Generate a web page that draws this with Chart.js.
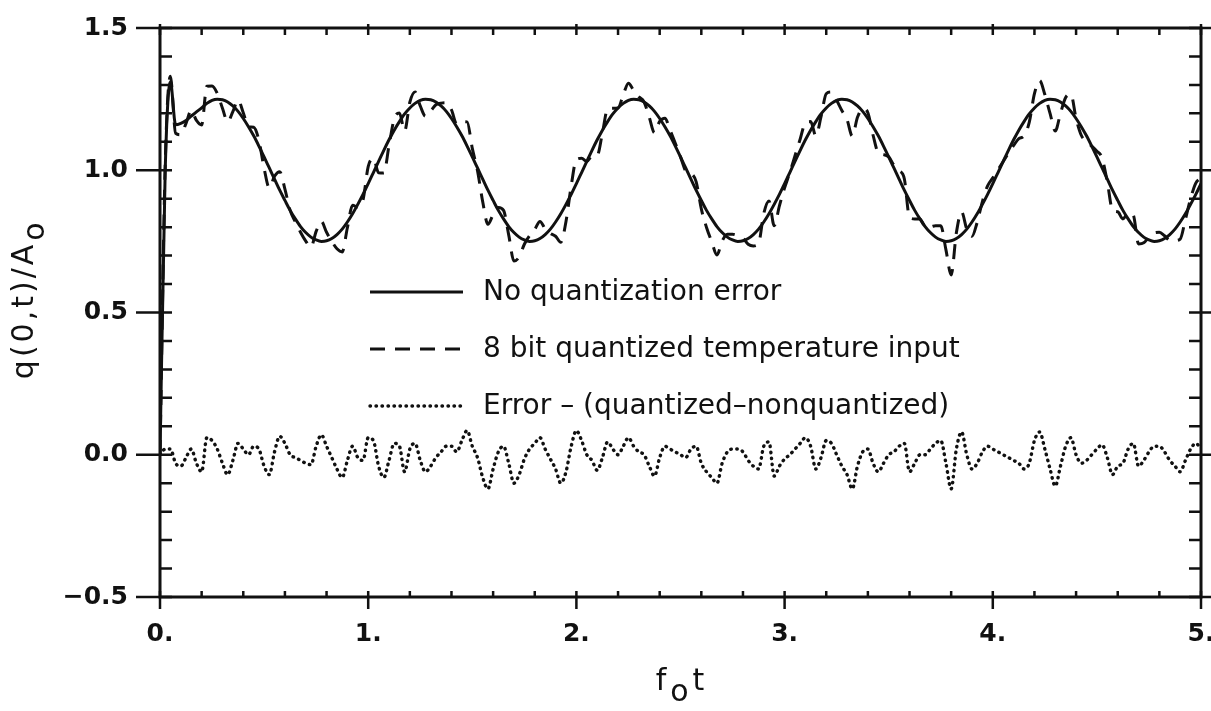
<!DOCTYPE html>
<html>
<head>
<meta charset="utf-8">
<script src="https://cdn.jsdelivr.net/npm/chart.js@4.4.1/dist/chart.umd.min.js"></script>
<style>
  html, body { margin: 0; padding: 0; background: #fff; }
  canvas { display: block; }
</style>
</head>
<body>
<canvas id="quantChart" width="1211" height="711"></canvas>
<script>
// sample times f_o t (0 .. 5, every 0.025)
const fot = Array.from({ length: 201 }, (_, i) => i / 40);

// q(0,t)/A_o without quantization (solid)
const noQuantization = [
  0.000, 1.000, 1.310, 1.160, 1.165, 1.175, 1.190, 1.205, // 0.0
  1.219, 1.235, 1.246, 1.250, 1.248, 1.240, 1.226, 1.207, // 0.2
  1.182, 1.153, 1.121, 1.085, 1.047, 1.008, 0.969, 0.930, // 0.4
  0.894, 0.859, 0.829, 0.802, 0.781, 0.765, 0.755, 0.750, // 0.6
  0.752, 0.760, 0.774, 0.793, 0.818, 0.847, 0.880, 0.915, // 0.8
  0.953, 0.992, 1.031, 1.070, 1.107, 1.141, 1.171, 1.198, // 1.0
  1.219, 1.235, 1.246, 1.250, 1.248, 1.240, 1.226, 1.207, // 1.2
  1.182, 1.153, 1.121, 1.085, 1.047, 1.008, 0.969, 0.930, // 1.4
  0.894, 0.859, 0.829, 0.802, 0.781, 0.765, 0.755, 0.750, // 1.6
  0.752, 0.760, 0.774, 0.793, 0.818, 0.847, 0.880, 0.915, // 1.8
  0.953, 0.992, 1.031, 1.070, 1.107, 1.141, 1.171, 1.198, // 2.0
  1.219, 1.235, 1.246, 1.250, 1.248, 1.240, 1.226, 1.207, // 2.2
  1.182, 1.153, 1.121, 1.085, 1.047, 1.008, 0.969, 0.930, // 2.4
  0.894, 0.859, 0.829, 0.802, 0.781, 0.765, 0.755, 0.750, // 2.6
  0.752, 0.760, 0.774, 0.793, 0.818, 0.847, 0.880, 0.915, // 2.8
  0.953, 0.992, 1.031, 1.070, 1.107, 1.141, 1.171, 1.198, // 3.0
  1.219, 1.235, 1.246, 1.250, 1.248, 1.240, 1.226, 1.207, // 3.2
  1.182, 1.153, 1.121, 1.085, 1.047, 1.008, 0.969, 0.930, // 3.4
  0.894, 0.859, 0.829, 0.802, 0.781, 0.765, 0.755, 0.750, // 3.6
  0.752, 0.760, 0.774, 0.793, 0.818, 0.847, 0.880, 0.915, // 3.8
  0.953, 0.992, 1.031, 1.070, 1.107, 1.141, 1.171, 1.198, // 4.0
  1.219, 1.235, 1.246, 1.250, 1.248, 1.240, 1.226, 1.207, // 4.2
  1.182, 1.153, 1.121, 1.085, 1.047, 1.008, 0.969, 0.930, // 4.4
  0.894, 0.859, 0.829, 0.802, 0.781, 0.765, 0.755, 0.750, // 4.6
  0.752, 0.760, 0.774, 0.793, 0.818, 0.847, 0.880, 0.915, // 4.8
  0.953
];

// 8 bit quantized temperature input (dashed)
const quantized8bit = [
  0.000, 1.020, 1.330, 1.130, 1.125, 1.165, 1.210, 1.175, // 0.0
  1.159, 1.295, 1.296, 1.270, 1.218, 1.170, 1.206, 1.247, // 0.2
  1.202, 1.153, 1.151, 1.105, 1.007, 0.938, 0.979, 0.995, // 0.4
  0.934, 0.859, 0.819, 0.782, 0.751, 0.730, 0.785, 0.820, // 0.6
  0.782, 0.750, 0.724, 0.713, 0.798, 0.877, 0.870, 0.895, // 0.8
  1.013, 1.042, 0.991, 0.990, 1.087, 1.181, 1.201, 1.138, // 1.0
  1.239, 1.275, 1.226, 1.190, 1.208, 1.230, 1.236, 1.237, // 1.2
  1.212, 1.163, 1.171, 1.170, 1.077, 0.998, 0.889, 0.810, // 1.4
  0.844, 0.869, 0.859, 0.772, 0.681, 0.695, 0.740, 0.770, // 1.6
  0.792, 0.820, 0.794, 0.778, 0.768, 0.747, 0.820, 0.945, // 1.8
  1.038, 1.042, 1.031, 1.050, 1.052, 1.131, 1.216, 1.218, // 2.0
  1.219, 1.265, 1.306, 1.280, 1.258, 1.240, 1.186, 1.132, // 2.2
  1.172, 1.183, 1.141, 1.095, 1.047, 0.998, 0.989, 0.960, // 2.4
  0.864, 0.799, 0.749, 0.702, 0.751, 0.775, 0.775, 0.770, // 2.6
  0.762, 0.740, 0.734, 0.743, 0.848, 0.892, 0.805, 0.875, // 2.8
  0.938, 0.992, 1.051, 1.110, 1.167, 1.171, 1.121, 1.188, // 3.0
  1.269, 1.275, 1.246, 1.210, 1.178, 1.120, 1.186, 1.217, // 3.2
  1.202, 1.123, 1.061, 1.055, 1.047, 1.018, 0.999, 0.970, // 3.4
  0.834, 0.829, 0.829, 0.802, 0.801, 0.805, 0.805, 0.720, // 3.6
  0.632, 0.780, 0.854, 0.793, 0.768, 0.817, 0.890, 0.945, // 3.8
  0.973, 1.002, 1.031, 1.060, 1.087, 1.111, 1.121, 1.168, // 4.0
  1.269, 1.315, 1.266, 1.200, 1.138, 1.200, 1.256, 1.267, // 4.2
  1.182, 1.123, 1.101, 1.085, 1.067, 1.043, 0.959, 0.860, // 4.4
  0.854, 0.829, 0.849, 0.842, 0.741, 0.745, 0.765, 0.780, // 4.6
  0.782, 0.770, 0.754, 0.753, 0.758, 0.827, 0.900, 0.955, // 4.8
  0.973
];

// Error - (quantized-nonquantized) (dotted)
const quantError = [
  0.00, 0.02, 0.02, -0.03, -0.04, -0.01, 0.02, -0.03,     // 0.0
  -0.06, 0.06, 0.05, 0.02, -0.03, -0.07, -0.02, 0.04,     // 0.2
  0.02, 0.00, 0.03, 0.02, -0.04, -0.07, 0.01, 0.065,      // 0.4
  0.04, 0.00, -0.01, -0.02, -0.03, -0.035, 0.03, 0.07,    // 0.6
  0.03, -0.01, -0.05, -0.08, -0.02, 0.03, -0.01, -0.02,   // 0.8
  0.06, 0.05, -0.04, -0.08, -0.02, 0.04, 0.03, -0.06,     // 1.0
  0.02, 0.04, -0.02, -0.06, -0.04, -0.01, 0.01, 0.03,     // 1.2
  0.03, 0.01, 0.05, 0.085, 0.03, -0.01, -0.08, -0.12,     // 1.4
  -0.05, 0.01, 0.03, -0.03, -0.10, -0.07, -0.015, 0.02,   // 1.6
  0.04, 0.06, 0.02, -0.015, -0.05, -0.10, -0.06, 0.03,    // 1.8
  0.085, 0.05, 0.00, -0.02, -0.055, -0.01, 0.045, 0.02,   // 2.0
  0.00, 0.03, 0.06, 0.03, 0.01, 0.00, -0.04, -0.075,      // 2.2
  -0.01, 0.03, 0.02, 0.01, 0.00, -0.01, 0.02, 0.03,       // 2.4
  -0.03, -0.06, -0.08, -0.10, -0.03, 0.01, 0.02, 0.02,    // 2.6
  0.01, -0.02, -0.04, -0.05, 0.03, 0.045, -0.075, -0.04,  // 2.8
  -0.015, 0.00, 0.02, 0.04, 0.06, 0.03, -0.05, -0.01,     // 3.0
  0.05, 0.04, 0.00, -0.04, -0.07, -0.12, -0.04, 0.01,     // 3.2
  0.02, -0.03, -0.06, -0.03, 0.00, 0.01, 0.03, 0.04,      // 3.4
  -0.06, -0.03, 0.00, 0.00, 0.02, 0.04, 0.05, -0.03,      // 3.6
  -0.12, 0.02, 0.08, 0.00, -0.05, -0.03, 0.01, 0.03,      // 3.8
  0.02, 0.01, 0.00, -0.01, -0.02, -0.03, -0.05, -0.03,    // 4.0
  0.05, 0.08, 0.02, -0.05, -0.11, -0.04, 0.03, 0.06,      // 4.2
  0.00, -0.03, -0.02, 0.00, 0.02, 0.035, -0.01, -0.07,    // 4.4
  -0.04, -0.03, 0.02, 0.04, -0.04, -0.02, 0.01, 0.03,     // 4.6
  0.03, 0.01, -0.02, -0.04, -0.06, -0.02, 0.02, 0.04,     // 4.8
  0.02
];

const seriesLabels = [
  'No quantization error',
  '8 bit quantized temperature input',
  'Error – (quantized–nonquantized)'
];

// axis titles: [main, subscript, tail]
const xTitle = ['f', 'o', 't'];
const yTitle = ['q(0,t)/A', 'o', ''];

const ink = '#111';
Chart.defaults.font.family = "'DejaVu Sans', sans-serif";
Chart.defaults.color = ink;

function toPoints(values) {
    return fot.map((t, i) => ({ x: t, y: values[i] }));
}

// frame with inward ticks on all four sides, majors poke outside
const frameTicks = {
    id: 'frameTicks',
    afterDatasetsDraw(chart) {
        const { ctx, chartArea: a, scales: { x, y } } = chart;
        ctx.save();
        ctx.strokeStyle = ink;
        ctx.lineWidth = 3;
        ctx.strokeRect(a.left, a.top, a.right - a.left, a.bottom - a.top);
        ctx.lineWidth = 2.5;
        ctx.beginPath();
        for (let i = 0; i <= 25; i++) {
            const px = x.getPixelForValue(i * 0.2);
            const major = i % 5 === 0;
            ctx.moveTo(px, a.bottom - 6);
            ctx.lineTo(px, a.bottom + (major ? 12 : 0));
            ctx.moveTo(px, a.top + 7);
            ctx.lineTo(px, a.top - (major ? 4 : 0));
        }
        for (let i = 0; i <= 20; i++) {
            const py = y.getPixelForValue(-0.5 + i * 0.1);
            const major = i % 5 === 0;
            ctx.moveTo(a.left - (major ? 24 : 0), py);
            ctx.lineTo(a.left + 12, py);
            ctx.moveTo(a.right - 12, py);
            ctx.lineTo(a.right + (major ? 10 : 0), py);
        }
        ctx.stroke();
        ctx.restore();
    }
};

// text with a dropped subscript, the way the plotter wrote it
function subText(ctx, parts, x, y, size) {
    ctx.font = size + "px 'DejaVu Sans'";
    ctx.fillText(parts[0], x, y);
    let w = ctx.measureText(parts[0]).width;
    ctx.fillText(parts[1], x + w + 1, y + size * 0.38);
    w += ctx.measureText(parts[1]).width + 2;
    ctx.fillText(parts[2], x + w, y);
}

const axisTitles = {
    id: 'axisTitles',
    afterDraw(chart) {
        const { ctx, chartArea: a } = chart;
        ctx.save();
        ctx.fillStyle = ink;
        ctx.textBaseline = 'alphabetic';
        ctx.textAlign = 'left';
        ctx.letterSpacing = '3px';
        // x title under the middle of the axis
        ctx.font = "30px 'DejaVu Sans'";
        const xw = ctx.measureText(xTitle.join('')).width;
        subText(ctx, xTitle, (a.left + a.right) / 2 - xw / 2, 690, 30);
        // y title, rotated
        ctx.translate(33, 300);
        ctx.rotate(-Math.PI / 2);
        const yw = ctx.measureText(yTitle.join('')).width;
        subText(ctx, yTitle, -yw / 2, 0, 30);
        ctx.restore();
    }
};

// legend sits inside the plot, under the first trough
const insideLegend = {
    id: 'insideLegend',
    afterDraw(chart) {
        const ctx = chart.ctx;
        ctx.save();
        ctx.font = "28px 'DejaVu Sans'";
        ctx.fillStyle = ink;
        ctx.textBaseline = 'middle';
        chart.data.datasets.forEach((ds, i) => {
            const yy = 292 + i * 57;
            ctx.strokeStyle = ink;
            ctx.lineWidth = ds.borderWidth;
            ctx.lineCap = ds.borderCapStyle || 'butt';
            ctx.setLineDash(ds.borderDash || []);
            ctx.beginPath();
            ctx.moveTo(370, yy);
            ctx.lineTo(463, yy);
            ctx.stroke();
            ctx.setLineDash([]);
            ctx.fillText(ds.label, 483, yy + 1);
        });
        ctx.restore();
    }
};

new Chart(document.getElementById('quantChart'), {
    type: 'line',
    data: {
        datasets: [
            {
                label: seriesLabels[0],
                data: toPoints(noQuantization),
                borderColor: ink,
                borderWidth: 3,
                pointRadius: 0,
                cubicInterpolationMode: 'monotone'
            },
            {
                label: seriesLabels[1],
                data: toPoints(quantized8bit),
                borderColor: ink,
                borderWidth: 3,
                borderDash: [15, 10],
                pointRadius: 0,
                cubicInterpolationMode: 'monotone'
            },
            {
                label: seriesLabels[2],
                data: toPoints(quantError),
                borderColor: ink,
                borderWidth: 3.4,
                borderDash: [0.5, 5.5],
                borderCapStyle: 'round',
                pointRadius: 0,
                cubicInterpolationMode: 'monotone'
            }
        ]
    },
    options: {
        responsive: false,
        devicePixelRatio: 1,
        animation: false,
        layout: { padding: { top: 28, right: 10, bottom: 0, left: 0 } },
        plugins: { legend: { display: false }, tooltip: { enabled: false } },
        scales: {
            x: {
                type: 'linear',
                min: 0,
                max: 5,
                grid: { display: false, drawTicks: false },
                border: { display: false },
                ticks: {
                    stepSize: 1,
                    padding: 22,
                    maxRotation: 0,
                    font: { size: 25, weight: 'bold' },
                    callback: v => v.toFixed(0) + '.'
                },
                afterFit(scale) {
                    scale.height = 114;
                    scale.paddingLeft = 0;
                    scale.paddingRight = 0;
                }
            },
            y: {
                min: -0.5,
                max: 1.5,
                grid: { display: false, drawTicks: false },
                border: { display: false },
                ticks: {
                    stepSize: 0.5,
                    padding: 32,
                    font: { size: 25, weight: 'bold' },
                    callback: v => (v < 0 ? '−' : '') + Math.abs(v).toFixed(1)
                },
                afterFit(scale) {
                    scale.width = 160;
                    scale.paddingTop = 0;
                    scale.paddingBottom = 0;
                }
            }
        }
    },
    plugins: [frameTicks, axisTitles, insideLegend]
});
</script>
</body>
</html>
